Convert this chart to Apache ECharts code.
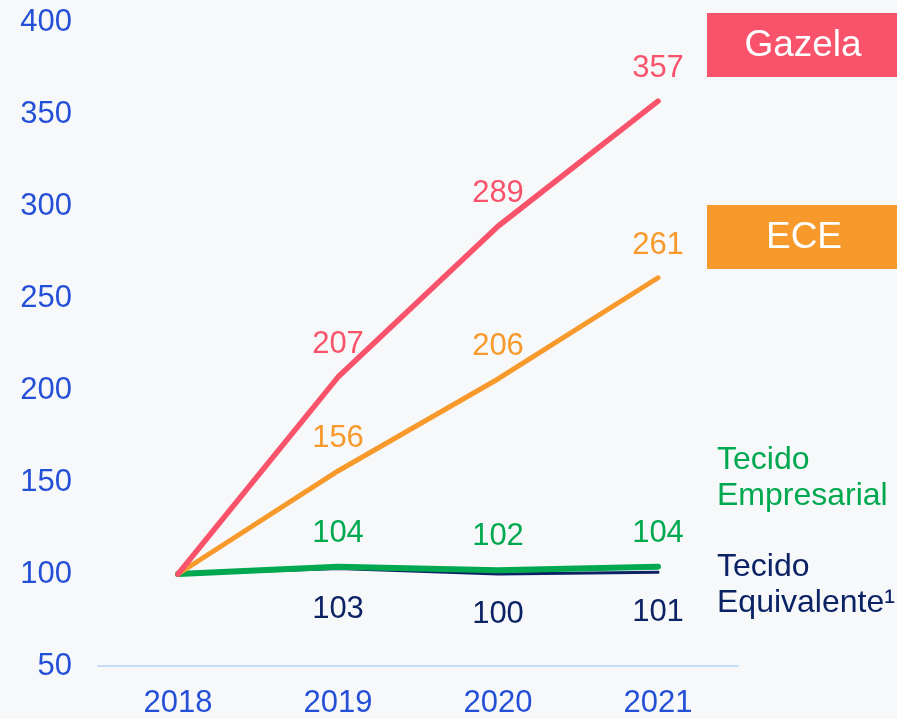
<!DOCTYPE html>
<html>
<head>
<meta charset="utf-8">
<script src="https://cdn.jsdelivr.net/npm/echarts@6/dist/echarts.min.js"></script>
<style>
  html, body { margin: 0; padding: 0; background: #f6f8fa; }
  #chart { width: 897px; height: 719px; }
</style>
</head>
<body>
<div id="chart"></div>
<script>
// dados (índice 2018 = 100)
const years = ['2018', '2019', '2020', '2021'];
const gazela = [100, 207, 289, 357];
const ece = [100, 156, 206, 261];
const tecidoEmpresarial = [100, 104, 102, 104];
const tecidoEquivalente = [100, 103, 100, 101];

const font = '"Liberation Sans", Arial, sans-serif';
const blue = '#2450d8';

// esconde o rótulo do ponto de partida (2018)
const hideFirst = p => (p.dataIndex === 0 ? '' : String(p.value));

function lineSeries(name, data, color, width, pos, dist, z) {
  return {
    name,
    type: 'line',
    data,
    z,
    symbol: 'circle',
    symbolSize: 2,
    showSymbol: true,
    itemStyle: { color: 'transparent', borderWidth: 0 },
    lineStyle: { color, width, cap: 'round', join: 'round' },
    label: {
      show: true,
      position: pos,
      distance: dist,
      formatter: hideFirst,
      color,
      fontSize: 31,
      fontFamily: font
    },
    emphasis: { disabled: true }
  };
}

const chart = echarts.init(document.getElementById('chart'));

chart.setOption({
  backgroundColor: '#f6f8fa',
  animation: false,
  grid: { left: 98, right: 159, top: 22, bottom: 53 },
  xAxis: {
    type: 'category',
    data: years,
    boundaryGap: true,
    axisLine: { show: true, lineStyle: { color: '#c5dcf8', width: 2 } },
    axisTick: { show: false },
    axisLabel: { color: blue, fontSize: 31, fontFamily: font, margin: 22 }
  },
  yAxis: {
    type: 'value',
    min: 50,
    max: 400,
    interval: 50,
    splitLine: { show: false },
    axisLine: { show: false },
    axisTick: { show: false },
    axisLabel: { color: blue, fontSize: 31, fontFamily: font, margin: 26 }
  },
  series: [
    lineSeries('Tecido Equivalente', tecidoEquivalente, '#0b2265', 3, 'bottom', 24, 1),
    lineSeries('Tecido Empresarial', tecidoEmpresarial, '#00a94f', 6, 'top', 17, 2),
    lineSeries('ECE', ece, '#f7992b', 5, 'top', 16, 3),
    lineSeries('Gazela', gazela, '#f9536b', 5.5, 'top', 16, 4)
  ],
  graphic: [
    {
      type: 'rect',
      shape: { x: 707, y: 13, width: 190, height: 64 },
      style: { fill: '#f9536b' }
    },
    {
      type: 'text',
      x: 803, y: 46,
      style: { text: 'Gazela', fill: '#fff', font: '37px ' + font, align: 'center', verticalAlign: 'middle' }
    },
    {
      type: 'rect',
      shape: { x: 707, y: 205, width: 190, height: 64 },
      style: { fill: '#f7992b' }
    },
    {
      type: 'text',
      x: 804, y: 238,
      style: { text: 'ECE', fill: '#fff', font: '37px ' + font, align: 'center', verticalAlign: 'middle' }
    },
    {
      type: 'text',
      x: 717, y: 478,
      style: { text: 'Tecido\nEmpresarial', fill: '#00a94f', font: '32px ' + font, lineHeight: 36, verticalAlign: 'middle' }
    },
    {
      type: 'text',
      x: 717, y: 585,
      style: { text: 'Tecido\nEquivalente¹', fill: '#0b2265', font: '32px ' + font, lineHeight: 36, verticalAlign: 'middle' }
    }
  ]
});
</script>
</body>
</html>
